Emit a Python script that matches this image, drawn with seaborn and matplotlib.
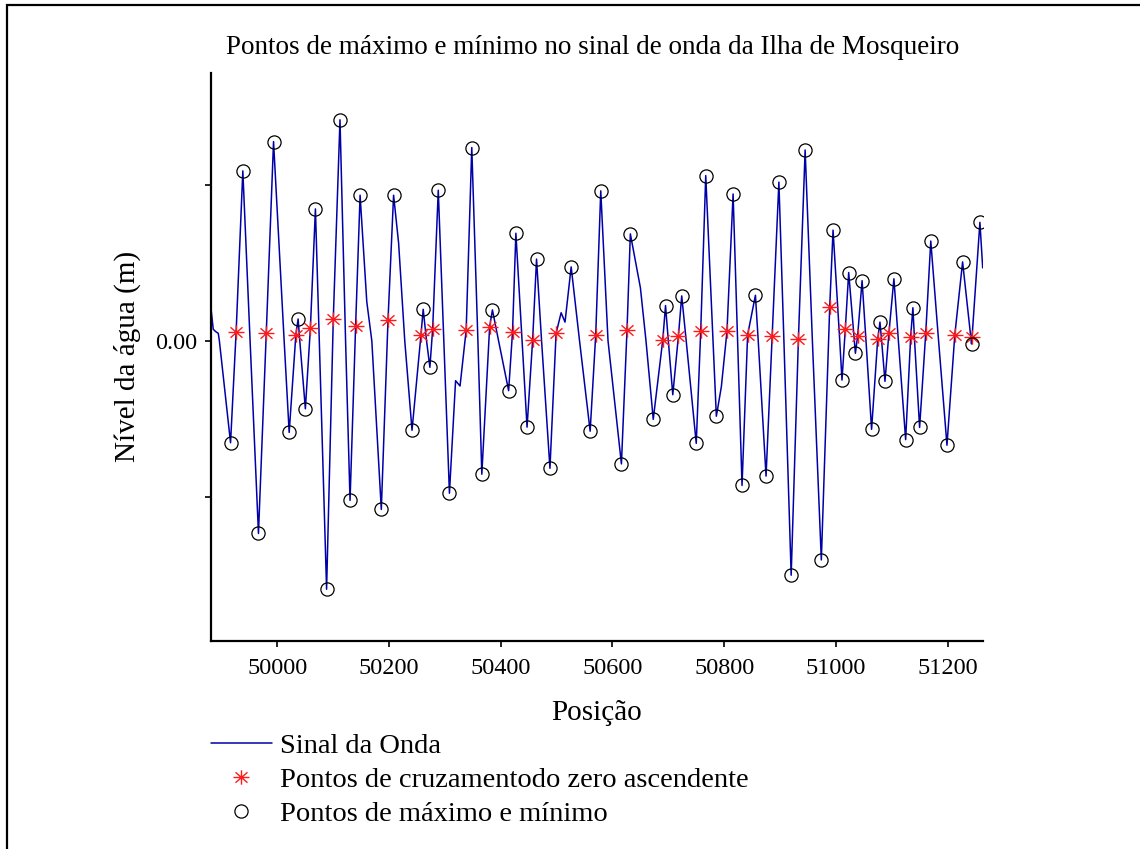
import numpy as np
import pandas as pd
import matplotlib
matplotlib.use("Agg")
import matplotlib.pyplot as plt
from matplotlib.path import Path
from matplotlib.patches import Rectangle
import seaborn as sns

# Local extrema of the wave record (position, water level in m)
ext_x = [49916, 49938, 49966, 49993, 50021, 50037, 50050, 50068, 50088, 50112,
         50130, 50148, 50186, 50208, 50241, 50261, 50273, 50288, 50308, 50348,
         50366, 50385, 50414, 50427, 50447, 50464, 50488, 50526, 50560, 50579,
         50616, 50632, 50673, 50695, 50708, 50724, 50750, 50767, 50786, 50816,
         50832, 50856, 50875, 50898, 50920, 50945, 50974, 50995, 51011, 51023,
         51035, 51047, 51064, 51079, 51088, 51104, 51125, 51138, 51150, 51170,
         51199, 51227, 51243, 51258]
ext_y = [-0.327, 0.545, -0.618, 0.639, -0.294, 0.070, -0.218, 0.423, -0.797, 0.709,
         -0.512, 0.467, -0.541, 0.467, -0.287, 0.101, -0.085, 0.483, -0.489, 0.620,
         -0.428, 0.099, -0.160, 0.345, -0.277, 0.262, -0.409, 0.237, -0.290, 0.481,
         -0.395, 0.343, -0.252, 0.113, -0.173, 0.144, -0.329, 0.530, -0.242, 0.471,
         -0.464, 0.146, -0.434, 0.509, -0.752, 0.612, -0.703, 0.355, -0.126, 0.219,
         -0.040, 0.193, -0.284, 0.060, -0.130, 0.199, -0.317, 0.106, -0.278, 0.320,
         -0.335, 0.253, -0.010, 0.380]

# Zero up-crossing samples
up_x = [49926, 49980, 50033, 50059, 50100, 50140, 50198, 50257, 50278, 50338,
        50380, 50421, 50457, 50499, 50570, 50626, 50690, 50718, 50758, 50805,
        50842, 50886, 50933, 50989, 51017, 51039, 51075, 51095, 51134, 51161,
        51213, 51244]
up_y = [0.028, 0.026, 0.020, 0.041, 0.070, 0.048, 0.067, 0.019, 0.039, 0.035,
        0.045, 0.029, 0.003, 0.024, 0.020, 0.034, 0.002, 0.014, 0.031, 0.030,
        0.019, 0.015, 0.007, 0.108, 0.039, 0.015, 0.005, 0.024, 0.013, 0.025,
        0.018, 0.013]

# Zero down-crossing samples
down_x = [49896, 49951, 50012, 50040, 50075, 50122, 50169, 50228, 50267, 50298,
          50359, 50396, 50438, 50473, 50541, 50592, 50660, 50700, 50732, 50780,
          50824, 50861, 50907, 50958, 51007, 51033, 51054, 51082, 51112, 51141,
          51184]
down_y = [0.0] * len(down_x)

# Remaining samples of the record (start, end and shoulders on the flanks)
extra_x = [49881, 49885, 49889, 49894, 50160, 50217, 50319, 50327, 50508, 50515,
           50599, 50650, 50795, 51263]
extra_y = [0.104, 0.037, 0.030, 0.024, 0.125, 0.313, -0.128, -0.145, 0.090, 0.060,
           -0.115, 0.170, -0.147, 0.234]

x_ticks = [50000, 50200, 50400, 50600, 50800, 51000, 51200]
y_ticks = [-0.5, 0.0, 0.5]
y_tick_labels = ["", "0.00", ""]

sns.set_style("ticks")
plt.rcParams["font.family"] = ["Liberation Serif", "DejaVu Serif"]
plt.rcParams["text.color"] = "black"
plt.rcParams["axes.labelcolor"] = "black"
plt.rcParams["xtick.color"] = "black"
plt.rcParams["ytick.color"] = "black"

W, H = 1140, 849
fig = plt.figure(figsize=(W / 100, H / 100), dpi=100)
ax = fig.add_axes([211 / W, 1 - 641 / H, (982.7 - 211) / W, (641 - 72.7) / H])

signal = pd.DataFrame({
    "pos": np.concatenate([ext_x, up_x, down_x, extra_x]),
    "nivel": np.concatenate([ext_y, up_y, down_y, extra_y]),
}).sort_values("pos")

verts = [(-1, 0), (1, 0), (0, -0.9), (0, 0.9),
         (-0.75, -0.65), (0.75, 0.65), (-0.75, 0.65), (0.75, -0.65)]
codes = [Path.MOVETO, Path.LINETO] * 4
asterisk = Path(verts, codes)

sns.lineplot(data=signal, x="pos", y="nivel", ax=ax, color="#0000a8", lw=1.1,
             estimator=None, sort=True, label="Sinal da Onda")
sns.lineplot(x=up_x, y=up_y, ax=ax, estimator=None, linestyle="none",
             marker=asterisk, markersize=11.5, markerfacecolor="none",
             markeredgecolor="#ff1a1a", markeredgewidth=1.0, color="#ff1a1a",
             label="Pontos de cruzamentodo zero ascendente")
sns.lineplot(x=ext_x, y=ext_y, ax=ax, estimator=None, linestyle="none",
             marker="o", markersize=9.5, markerfacecolor="none",
             markeredgecolor="black", markeredgewidth=0.9, color="black",
             label="Pontos de máximo e mínimo")

ax.set_xlim(49881, 51263)
ax.set_ylim(-0.963, 0.860)
ax.set_xticks(x_ticks)
ax.set_xticklabels([str(v) for v in x_ticks])
ax.set_yticks(y_ticks)
ax.set_yticklabels(y_tick_labels)

for side in ("top", "right"):
    ax.spines[side].set_visible(False)
for side in ("left", "bottom"):
    ax.spines[side].set_linewidth(1.6)
    ax.spines[side].set_color("black")
ax.tick_params(axis="both", direction="out", length=4, width=1.2, colors="black",
               labelsize=17.5)
ax.tick_params(axis="x", pad=8)
ax.tick_params(axis="y", pad=6)

ax.set_xlabel("Posição", fontsize=21, labelpad=15)
ax.set_ylabel("Nível da água (m)", fontsize=21, labelpad=10)

fig.text(592.5 / W, 1 - 48 / H,
         "Pontos de máximo e mínimo no sinal de onda da Ilha de Mosqueiro",
         ha="center", va="center", fontsize=19.5)

handles, labels = ax.get_legend_handles_labels()
ax.get_legend().remove()
fig.legend(handles, labels, loc="upper left", bbox_to_anchor=(211 / W, 1 - 733 / H),
           frameon=False, fontsize=20.5, handlelength=2.14, handletextpad=0.28,
           borderpad=0, borderaxespad=0, labelspacing=0.28)

fig.add_artist(Rectangle((6.7 / W, -0.05), 1.1, 1 - 5 / H + 0.05,
                         transform=fig.transFigure, fill=False,
                         linewidth=1.6, edgecolor="black"))

fig.savefig("out.png", dpi=100)
